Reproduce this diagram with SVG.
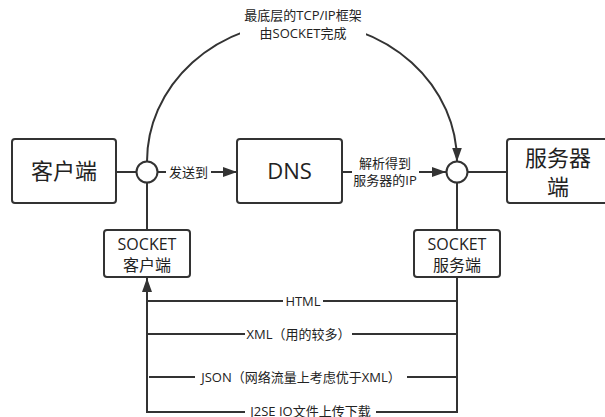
<svg xmlns="http://www.w3.org/2000/svg" width="605" height="417" viewBox="0 0 605 417">
  <style>
    .box { fill: #ffffff; stroke: #333333; stroke-width: 2; }
    .joint { fill: #ffffff; stroke: #333333; stroke-width: 2; }
    .wire { fill: none; stroke: #333333; stroke-width: 2; }
    .t { font-family: "Open Sans", "Noto Sans CJK SC", sans-serif; fill: #222222; text-anchor: middle; }
    .big { font-size: 22px; }
    .mid { font-size: 16px; }
    .lab { font-size: 13px; }
    .bg { fill: #ffffff; }
  </style>
  <defs>
    <marker id="arrow" markerUnits="userSpaceOnUse" markerWidth="15" markerHeight="11" refX="14" refY="5" orient="auto">
      <path d="M0,0 L14,5 L0,10 z" fill="#333333"/>
    </marker>
  </defs>

  <g id="connectors">
    <!-- client box to left joint -->
    <line class="wire" x1="116" y1="172" x2="136" y2="172"/>
    <!-- left joint to DNS -->
    <line class="wire" x1="157.5" y1="172" x2="237" y2="172" marker-end="url(#arrow)"/>
    <!-- DNS to right joint -->
    <line class="wire" x1="342" y1="172" x2="446" y2="172" marker-end="url(#arrow)"/>
    <!-- right joint to server box -->
    <line class="wire" x1="467.5" y1="172" x2="507" y2="172"/>
    <!-- arc over the top -->
    <path class="wire" d="M147,161.5 A155,140 0 0 1 457,161.5" marker-end="url(#arrow)"/>
    <!-- joints down to socket boxes -->
    <line class="wire" x1="147" y1="182.5" x2="147" y2="230"/>
    <line class="wire" x1="457" y1="182.5" x2="457" y2="230"/>
    <!-- return bus -->
    <line class="wire" x1="457" y1="277" x2="457" y2="412"/>
    <line class="wire" x1="147" y1="412" x2="147" y2="278" marker-end="url(#arrow)"/>
    <line class="wire" x1="147" y1="301" x2="457" y2="301"/>
    <line class="wire" x1="147" y1="334" x2="457" y2="334"/>
    <line class="wire" x1="149" y1="377" x2="457" y2="377"/>
    <line class="wire" x1="146" y1="412" x2="458" y2="412"/>

    <!-- connector labels -->
    <rect class="bg" x="240" y="3" width="126" height="40"/>
    <text class="t lab" x="303" y="20" font-size="14">最底层的TCP/IP框架</text>
    <text class="t lab" x="303" y="38" font-size="14">由SOCKET完成</text>

    <rect class="bg" x="166" y="163" width="45" height="18"/>
    <text class="t lab" x="188.5" y="177">发送到</text>

    <rect class="bg" x="352" y="153" width="67" height="36"/>
    <text class="t lab" x="385" y="168">解析得到</text>
    <text class="t lab" x="385" y="185">服务器的IP</text>

    <rect class="bg" x="283" y="292" width="40" height="18"/>
    <text class="t lab" x="303" y="306">HTML</text>
    <rect class="bg" x="245" y="325" width="107" height="18"/>
    <text class="t lab" x="298.5" y="339">XML（用的较多）</text>
    <rect class="bg" x="195" y="368" width="212" height="18"/>
    <text class="t lab" x="301" y="382">JSON（网络流量上考虑优于XML）</text>
    <rect class="bg" x="245" y="403" width="131" height="14"/>
    <text class="t lab" x="310.5" y="416">J2SE IO文件上传下载</text>
  </g>

  <g id="client">
    <rect class="box" x="12" y="139" width="104" height="64" rx="3"/>
    <text class="t big" x="64" y="179">客户端</text>
  </g>

  <g id="dns">
    <rect class="box" x="237" y="139" width="105" height="64" rx="3"/>
    <text class="t big" x="289.5" y="179">DNS</text>
  </g>

  <g id="server">
    <rect class="box" x="507" y="139" width="104" height="64" rx="3"/>
    <text class="t big" x="558" y="166" font-size="21">服务器</text>
    <text class="t big" x="558" y="195" font-size="21">端</text>
  </g>

  <g id="client-joint">
    <circle class="joint" cx="147" cy="172" r="10.5"/>
  </g>

  <g id="server-joint">
    <circle class="joint" cx="457" cy="172" r="10.5"/>
  </g>

  <g id="socket-client">
    <rect class="box" x="104" y="230" width="86" height="47" rx="3"/>
    <text class="t mid" x="147" y="250">SOCKET</text>
    <text class="t mid" x="147" y="271">客户端</text>
  </g>

  <g id="socket-server">
    <rect class="box" x="414" y="230" width="86" height="47" rx="3"/>
    <text class="t mid" x="457" y="250">SOCKET</text>
    <text class="t mid" x="457" y="271">服务端</text>
  </g>
</svg>
